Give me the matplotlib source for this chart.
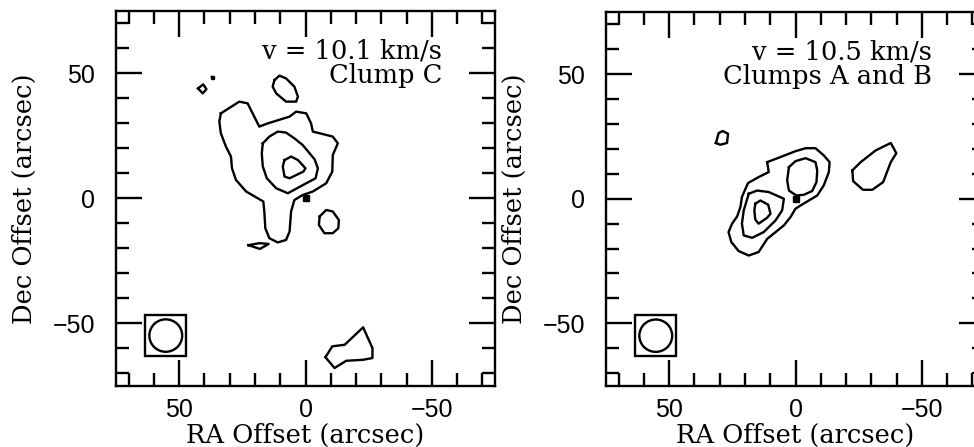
import numpy as np
import matplotlib.pyplot as plt
from matplotlib.patches import Rectangle, Circle

# contour outlines: (RA offset, Dec offset) in arcsec
# --- left map, v = 10.1 km/s
c_outer = [(33.5, 34.0), (26.2, 38.7), (22.9, 38.0), (18.3, 28.7), (14.9, 30.0),
           (6.3, 32.7), (3.7, 34.7), (-0.3, 34.0), (-2.2, 30.0), (-2.9, 26.7),
           (-10.8, 24.7), (-12.8, 22.0), (-10.8, 17.3), (-10.6, 10.7), (-8.2, 6.0),
           (-2.9, 2.7), (1.1, 1.3), (4.4, -0.7), (5.7, -5.3), (6.3, -13.3),
           (7.7, -16.7), (11.0, -17.7), (14.3, -16.0), (15.9, -12.0), (16.3, -5.3),
           (16.7, -1.3), (18.9, 0.0), (23.5, 2.7), (27.5, 7.3), (29.1, 12.0),
           (29.5, 16.7), (31.5, 20.7), (33.5, 26.0), (34.1, 30.7)]
c_mid = [(16.9, 22.0), (14.3, 24.7), (11.0, 26.7), (7.7, 26.3), (4.4, 24.0),
         (1.1, 21.3), (-3.6, 15.6), (-4.9, 12.0), (-4.0, 8.0), (-0.3, 6.0),
         (7.0, 2.0), (11.6, 4.0), (15.3, 8.0), (16.9, 12.7), (17.3, 18.0)]
c_peak = [(8.3, 15.3), (5.7, 16.7), (3.0, 15.3), (0.0, 12.0), (0.8, 10.7),
          (6.3, 8.0), (8.3, 8.7), (9.0, 12.7)]
c_north = [(12.3, 47.3), (10.3, 49.1), (7.7, 48.0), (4.4, 44.7), (3.0, 40.7),
           (3.7, 38.7), (7.7, 38.7), (11.6, 42.0), (13.0, 44.7)]
c_east = [(-5.6, -7.3), (-8.2, -4.7), (-10.8, -5.3), (-13.2, -8.7), (-13.0, -12.0),
          (-10.8, -14.0), (-7.5, -14.0), (-5.3, -10.7)]
c_south = [(22.6, -18.8), (18.3, -18.0), (14.6, -18.3), (18.0, -20.3)]
c_nw = [(42.5, 44.0), (40.5, 45.6), (39.2, 43.7), (40.7, 42.0)]
c_dot = [(37.2, 48.4), (36.4, 48.4), (36.4, 47.6), (37.2, 47.6)]
c_se = [(-7.9, -63.7), (-10.6, -59.3), (-15.5, -58.7), (-22.8, -51.7), (-26.5, -60.0),
        (-26.5, -64.0), (-22.8, -64.7), (-16.1, -65.1), (-11.5, -68.0)]

# --- right map, v = 10.5 km/s
ab_outer = [(11.2, 14.7), (5.3, 17.0), (0.0, 19.1), (-4.0, 20.3), (-7.9, 20.3),
            (-11.2, 17.4), (-13.5, 14.7), (-13.2, 10.7), (-11.2, 5.4), (-8.6, 1.3),
            (-5.3, -0.7), (-2.0, -2.7), (0.0, -4.0), (2.0, -7.4), (4.6, -10.7),
            (7.9, -13.4), (11.2, -16.1), (14.6, -21.4), (18.5, -22.8), (22.5, -21.0),
            (25.4, -17.4), (26.5, -13.4), (25.1, -10.0), (23.1, -7.1), (21.8, -3.3),
            (21.2, 0.7), (18.8, 6.3), (14.6, 8.7), (10.6, 10.7)]
a_mid = [(18.5, 2.0), (15.2, 3.3), (10.6, 2.7), (4.6, 0.0), (5.3, -4.7),
         (7.9, -8.7), (12.6, -13.4), (17.2, -15.7), (20.5, -14.7), (21.2, -10.0),
         (20.5, -4.7)]
a_peak = [(15.9, -2.0), (13.9, -0.7), (10.8, -2.4), (9.9, -6.0), (11.2, -7.6),
          (14.6, -10.0), (15.9, -8.4), (16.3, -4.7)]
b_mid = [(2.6, 12.7), (0.0, 15.1), (-4.0, 16.3), (-7.9, 14.7), (-8.6, 11.4),
         (-8.3, 6.7), (-6.6, 3.1), (-3.3, 1.6), (-0.3, 1.3), (2.6, 3.3), (3.3, 7.4)]
w_blob = [(-22.5, 11.4), (-25.8, 14.7), (-31.7, 19.4), (-37.7, 22.4), (-39.9, 18.3),
          (-37.7, 14.7), (-34.7, 6.7), (-30.4, 3.6), (-26.7, 3.6), (-22.8, 7.1)]
ne_knot = [(31.5, 22.4), (30.4, 26.4), (28.8, 27.2), (26.7, 26.1), (27.1, 22.4),
           (29.8, 21.7)]

left_contours = [c_outer, c_mid, c_peak, c_north, c_east, c_south, c_nw, c_dot, c_se]
right_contours = [ab_outer, a_mid, a_peak, b_mid, w_blob, ne_knot]
left_text = ['v = 10.1 km/s', 'Clump C']
right_text = ['v = 10.5 km/s', 'Clumps A and B']

beam_center = (55.3, -55.0)
beam_box = 16.4
beam_fwhm = 13.0
source = (0.0, 0.0)

serif = 'DejaVu Serif'
lw = 1.7

fig = plt.figure(figsize=(9.74, 4.47), dpi=100)
ax1 = fig.add_axes([116/974, 1 - 385.5/447, 379/974, 374.5/447])
ax2 = fig.add_axes([606/974, 1 - 385.5/447, 379/974, 373.5/447])


def draw(ax, contours, lines):
    for poly in contours:
        p = np.array(poly + [poly[0]])
        ax.plot(p[:, 0], p[:, 1], color='black', lw=lw)
    ax.plot(*source, marker='s', color='black', ms=4.5)
    cx, cy = beam_center
    ax.add_patch(Rectangle((cx - beam_box/2, cy - beam_box/2), beam_box, beam_box,
                           fill=False, lw=lw, ec='black'))
    ax.add_patch(Circle((cx, cy), beam_fwhm/2, fill=False, lw=lw, ec='black'))
    ax.text(-54, 56, lines[0], ha='right', va='baseline', fontsize=18.5, family=serif)
    ax.text(-54, 46, lines[1], ha='right', va='baseline', fontsize=18.5, family=serif)

    ax.set_xlim(75, -75)
    ax.set_ylim(-75, 75)
    ax.set_xticks([50, 0, -50])
    ax.set_yticks([-50, 0, 50])
    ax.set_xticks(np.arange(-70, 80, 10), minor=True)
    ax.set_yticks(np.arange(-70, 80, 10), minor=True)
    ax.tick_params(which='both', direction='in', top=True, right=True, width=lw,
                   color='black')
    ax.tick_params(which='major', length=18.7, labelsize=18)
    ax.tick_params(which='minor', length=9.4)
    ax.tick_params(axis='x', which='major', pad=9)
    ax.tick_params(axis='y', which='major', pad=15)
    for lab in ax.get_xticklabels() + ax.get_yticklabels():
        lab.set_family('Liberation Sans')
    for s in ax.spines.values():
        s.set_linewidth(lw)
    ax.set_xlabel('RA Offset (arcsec)', fontsize=18.5, family=serif, labelpad=1)
    ax.set_ylabel('Dec Offset (arcsec)', fontsize=18.5, family=serif, labelpad=11)


draw(ax1, left_contours, left_text)
draw(ax2, right_contours, right_text)

fig.savefig('out.png', dpi=100)
